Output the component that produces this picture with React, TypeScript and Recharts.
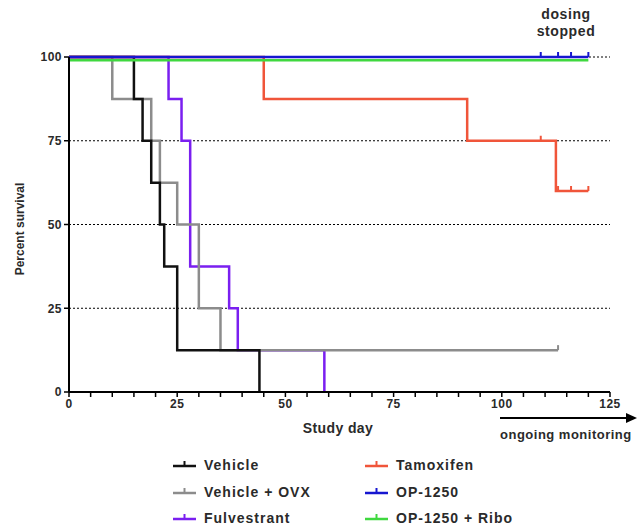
import { LineChart, Line, XAxis, YAxis, CartesianGrid } from 'recharts';

// survival steps (day, % surviving); censored days get a tick mark
const vehicleDays = [0, 15, 17, 19, 21, 22, 25, 44];
const vehicleSurv = [100, 87.5, 75, 62.5, 50, 37.5, 12.5, 0];
const vehicleCensor: number[] = [];

const ovxDays = [0, 10, 19, 21, 25, 30, 35, 113];
const ovxSurv = [100, 87.5, 75, 62.5, 50, 25, 12.5, 12.5];
const ovxCensor = [113];

const fulvDays = [0, 23, 26, 28, 37, 39, 59];
const fulvSurv = [100, 87.5, 75, 37.5, 25, 12.5, 0];
const fulvCensor: number[] = [];

const tamDays = [0, 45, 92, 109, 112.5, 113, 116, 120];
const tamSurv = [100, 87.5, 75, 75, 60, 60, 60, 60];
const tamCensor = [109, 113, 116, 120];

const opDays = [0, 109, 113, 116, 120];
const opSurv = [100, 100, 100, 100, 100];
const opCensor = [109, 113, 116, 120];

const riboDays = [0, 120];
const riboSurv = [99, 99];
const riboCensor: number[] = [];

const dayTicks = [0, 5, 10, 15, 20, 25, 30, 35, 40, 45, 50, 55, 60, 65, 70, 75, 80, 85, 90, 95, 100, 105, 110, 115, 120, 125];
const pctTicks = [0, 25, 50, 75, 100];

const build = (days: number[], surv: number[], censor: number[]) =>
  days.map((d, i) => ({ day: d, pct: surv[i], censored: censor.includes(d) }));

// drawing order: later ones sit on top
const series = [
  { name: 'Fulvestrant', color: '#7a1ff0', data: build(fulvDays, fulvSurv, fulvCensor) },
  { name: 'Vehicle + OVX', color: '#8c8c8c', data: build(ovxDays, ovxSurv, ovxCensor) },
  { name: 'Vehicle', color: '#111111', data: build(vehicleDays, vehicleSurv, vehicleCensor) },
  { name: 'Tamoxifen', color: '#f0553a', data: build(tamDays, tamSurv, tamCensor) },
  { name: 'OP-1250 + Ribo', color: '#3fd83f', data: build(riboDays, riboSurv, riboCensor) },
  { name: 'OP-1250', color: '#1616d0', data: build(opDays, opSurv, opCensor) },
];

const legendLeft = ['Vehicle', 'Vehicle + OVX', 'Fulvestrant'];
const legendRight = ['Tamoxifen', 'OP-1250', 'OP-1250 + Ribo'];

const FONT = '"Liberation Sans", Arial, sans-serif';
const TXT = '#2a2a2a';

const censorDot = (color: string) => (props: any) => {
  const { cx, cy, payload, index } = props;
  if (!payload || !payload.censored) return <g key={`n-${index}`} />;
  return <line key={`c-${index}`} x1={cx} x2={cx} y1={cy} y2={cy - 5} stroke={color} strokeWidth={2} />;
};

const colorOf = (name: string) => series.find((s) => s.name === name)?.color ?? '#000';

function LegendItem({ name, x, y }: { name: string; x: number; y: number }) {
  const c = colorOf(name);
  return (
    <div style={{ position: 'absolute', left: x, top: y - 10, height: 20, display: 'flex', alignItems: 'center' }}>
      <svg width={25} height={20} style={{ marginRight: 7 }}>
        <line x1={1} x2={24} y1={11} y2={11} stroke={c} strokeWidth={2.5} />
        <line x1={12.5} x2={12.5} y1={11} y2={6} stroke={c} strokeWidth={2} />
      </svg>
      <span style={{ fontFamily: FONT, fontWeight: 700, fontSize: 14, color: TXT, letterSpacing: 1 }}>{name}</span>
    </div>
  );
}

export default function App() {
  return (
    <div style={{ position: 'absolute', left: 0, top: 0, width: 637, height: 532, background: '#fff' }}>
      <LineChart width={637} height={532} margin={{ top: 57, right: 27, left: 0, bottom: 0 }}>
        <CartesianGrid horizontal vertical={false} stroke="#000" strokeDasharray="2 2" strokeWidth={1} />
        <XAxis
          dataKey="day"
          type="number"
          domain={[0, 125]}
          ticks={dayTicks}
          interval={0}
          tickFormatter={(v) => (v % 25 === 0 ? String(v) : '')}
          height={140}
          tickSize={5}
          axisLine={{ stroke: '#000', strokeWidth: 2 }}
          tickLine={{ stroke: '#000', strokeWidth: 1.5 }}
          tick={{ fontFamily: FONT, fontWeight: 700, fontSize: 12, fill: TXT, letterSpacing: 0.5 }}
        />
        <YAxis
          type="number"
          domain={[0, 100]}
          ticks={pctTicks}
          width={69}
          tickSize={5}
          axisLine={{ stroke: '#000', strokeWidth: 2 }}
          tickLine={{ stroke: '#000', strokeWidth: 1.5 }}
          tick={{ fontFamily: FONT, fontWeight: 700, fontSize: 12, fill: TXT, letterSpacing: 0.5 }}
        />
        {series.map((s) => (
          <Line
            key={s.name}
            data={s.data}
            dataKey="pct"
            name={s.name}
            type="stepAfter"
            stroke={s.color}
            strokeWidth={2.5}
            dot={censorDot(s.color)}
            activeDot={false}
            isAnimationActive={false}
          />
        ))}
      </LineChart>

      {/* axis titles */}
      <div
        style={{
          position: 'absolute', left: 20, top: 229, transform: 'translate(-50%, -50%) rotate(-90deg)',
          fontFamily: FONT, fontSize: 12, fontWeight: 600, color: TXT, whiteSpace: 'nowrap',
        }}
      >
        Percent survival
      </div>
      <div
        style={{
          position: 'absolute', left: 338, top: 428, transform: 'translate(-50%, -50%)',
          fontFamily: FONT, fontSize: 14, fontWeight: 700, color: TXT, whiteSpace: 'nowrap', letterSpacing: 0.4,
        }}
      >
        Study day
      </div>

      {/* annotations */}
      <div
        style={{
          position: 'absolute', left: 566, top: 23, transform: 'translate(-50%, -50%)', textAlign: 'center',
          fontFamily: FONT, fontSize: 14, fontWeight: 700, color: TXT, lineHeight: '17px', letterSpacing: 0.6,
        }}
      >
        dosing<br />stopped
      </div>
      <svg style={{ position: 'absolute', left: 498, top: 411 }} width={139} height={14}>
        <line x1={2} x2={130} y1={7} y2={7} stroke="#000" strokeWidth={2} />
        <polygon points="128,2 139,7 128,12" fill="#000" />
      </svg>
      <div
        style={{
          position: 'absolute', left: 500, top: 434, transform: 'translateY(-50%)',
          fontFamily: FONT, fontSize: 13, fontWeight: 700, color: TXT, whiteSpace: 'nowrap', letterSpacing: 0.5,
        }}
      >
        ongoing monitoring
      </div>

      {/* legend */}
      {legendLeft.map((n, i) => (
        <LegendItem key={n} name={n} x={172} y={465 + i * 26.5} />
      ))}
      {legendRight.map((n, i) => (
        <LegendItem key={n} name={n} x={364} y={465 + i * 26.5} />
      ))}
    </div>
  );
}
